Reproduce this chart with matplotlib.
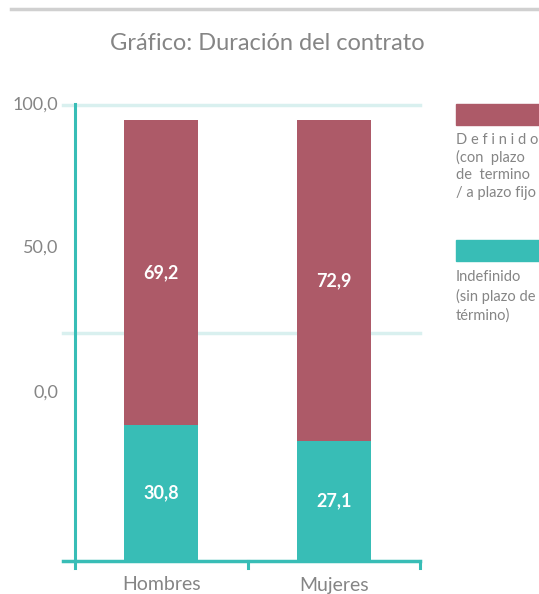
import matplotlib.pyplot as plt

categories = ['Hombres', 'Mujeres']
indefinido = [30.8, 27.1]
definido = [69.2, 72.9]
labels_indef = ['30,8', '27,1']
labels_def = ['69,2', '72,9']
tick_labels = ['100,0', '50,0', '0,0']

teal = '#38bdb6'
maroon = '#ad5a68'
grey = '#858585'
grid_col = '#d9f0ef'

plt.rcParams['font.family'] = ['Lato', 'DejaVu Sans']

W, H = 539, 594
fig = plt.figure(figsize=(W / 100, H / 100), dpi=100)

# axes placed in pixel terms
left, right, top, bottom = 63, 421, 100, 568
ax = fig.add_axes([left / W, 1 - bottom / H, (right - left) / W, (bottom - top) / H])
px_per_x = 345 / 2
px_per_y = 441 / 100
ax.set_xlim(-12 / px_per_x, 2 + 1 / px_per_x)
ax.set_ylim(-7 / px_per_y, 461 / px_per_y)
ax.axis('off')

# grid lines (odd positions copied from the original)
for gy in [456 / px_per_y, 228 / px_per_y]:
    ax.plot([-12 / px_per_x, 2], [gy, gy], color=grid_col, lw=2.5, zorder=1,
            clip_on=False)

# axis lines
ax.plot([0, 0], [-7 / px_per_y, 457 / px_per_y], color=teal, lw=2.2, zorder=4,
        clip_on=False)
ax.plot([-12 / px_per_x, 2], [0, 0], color=teal, lw=2.5, zorder=4, clip_on=False)
for tx in [1, 2]:
    ax.plot([tx, tx], [0, -7 / px_per_y], color=teal, lw=2.2, zorder=4,
            clip_on=False)

# y tick labels
for lab, py in zip(tick_labels, [456, 313, 168]):
    ax.text(-17 / px_per_x, py / px_per_y, lab, ha='right', va='center',
            fontsize=13, color=grey)

xs = [0.5, 1.5]
bw = 74 / px_per_x
ax.bar(xs, indefinido, width=bw, color=teal, zorder=3)
ax.bar(xs, definido, width=bw, bottom=indefinido, color=maroon, zorder=3)

for x, a, b, la, lb in zip(xs, indefinido, definido, labels_indef, labels_def):
    ax.text(x, a * 0.5, la, ha='center', va='center',
            color='white', fontsize=13, fontweight='bold', zorder=5)
    ax.text(x, a + b * 0.5, lb, ha='center', va='center',
            color='white', fontsize=13, fontweight='bold', zorder=5)

for x, c in zip(xs, categories):
    ax.text(x, -24 / px_per_y, c, ha='center', va='center', fontsize=14,
            color=grey)

# title and top rule
fig.add_artist(plt.Line2D([11 / W, 1], [1 - 9 / H, 1 - 9 / H],
                          color='#d0d0d0', lw=2.5))
fig.text(267 / W, 1 - 43 / H, 'Gráfico: Duración del contrato', ha='center',
         va='center', fontsize=17, color=grey)

# legend
fig.add_artist(plt.Rectangle((456 / W, 1 - 125 / H), 90 / W, 21 / H,
                             color=maroon))
fig.add_artist(plt.Rectangle((456 / W, 1 - 261 / H), 90 / W, 21 / H,
                             color=teal))
leg1 = ['D e f i n i d o', '(con  plazo', 'de  termino', '/ a plazo fijo']
leg2 = ['Indefinido', '(sin plazo de', 'término)']
for i, t in enumerate(leg1):
    fig.text(456 / W, 1 - (140 + 17.7 * i) / H, t, ha='left', va='center',
             fontsize=10.5, color=grey)
for i, t in enumerate(leg2):
    fig.text(456 / W, 1 - (277 + 19.5 * i) / H, t, ha='left', va='center',
             fontsize=10.5, color=grey)

fig.savefig('out.png', dpi=100)
